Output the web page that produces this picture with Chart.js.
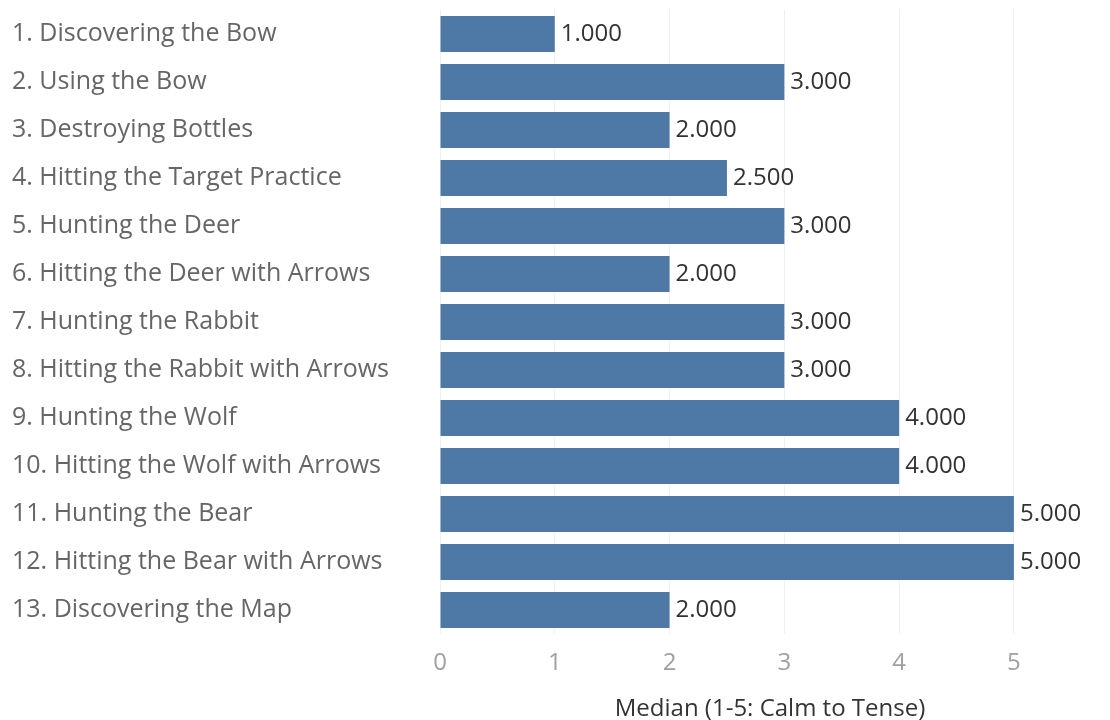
<!DOCTYPE html>
<html>
<head>
<meta charset="utf-8">
<script src="https://cdn.jsdelivr.net/npm/chart.js@4"></script>
<style>
  html, body { margin: 0; padding: 0; background: #fff; }
  #wrap { width: 1110px; height: 720px; }
</style>
</head>
<body>
<div id="wrap"><canvas id="median-chart"></canvas></div>
<script>
const scenes = [
  '1. Discovering the Bow',
  '2. Using the Bow',
  '3. Destroying Bottles',
  '4. Hitting the Target Practice',
  '5. Hunting the Deer',
  '6. Hitting the Deer with Arrows',
  '7. Hunting the Rabbit',
  '8. Hitting the Rabbit with Arrows',
  '9. Hunting the Wolf',
  '10. Hitting the Wolf with Arrows',
  '11. Hunting the Bear',
  '12. Hitting the Bear with Arrows',
  '13. Discovering the Map'
];
const medians = [1, 3, 2, 2.5, 3, 2, 3, 3, 4, 4, 5, 5, 2];
const xTicks = [0, 1, 2, 3, 4, 5];

const fontFamily = '"Open Sans", "Noto Sans", sans-serif';

// draws "3.000" style labels at the end of each bar
const valueLabels = {
  id: 'valueLabels',
  afterDatasetsDraw(chart) {
    const ctx = chart.ctx;
    const meta = chart.getDatasetMeta(0);
    ctx.save();
    ctx.font = '24px ' + fontFamily;
    ctx.fillStyle = '#333';
    ctx.textBaseline = 'middle';
    meta.data.forEach((bar, i) => {
      ctx.fillText(medians[i].toFixed(3), bar.x + 6, bar.y);
    });
    ctx.restore();
  }
};

const medianConfig = {
  type: 'bar',
  data: {
    labels: scenes,
    datasets: [{
      data: medians,
      backgroundColor: '#4e79a7',
      borderWidth: 0,
      categoryPercentage: 1,
      barPercentage: 0.75
    }]
  },
  options: {
    indexAxis: 'y',
    responsive: true,
    maintainAspectRatio: false,
    animation: false,
    layout: { padding: { top: 10, left: 12, right: 10, bottom: 0 } },
    scales: {
      x: {
        min: 0,
        max: 5.75,
        afterBuildTicks(scale) {
          scale.ticks = xTicks.map(v => ({ value: v }));
        },
        afterFit(scale) { scale.height = 86; },
        grid: { color: '#f0f0f0', drawTicks: false },
        border: { display: false },
        ticks: {
          color: '#a0a0a0',
          padding: 15,
          font: { family: fontFamily, size: 24 }
        },
        title: {
          display: true,
          text: 'Median (1-5: Calm to Tense)',
          color: '#333',
          padding: { top: 10, bottom: -4 },
          font: { family: fontFamily, size: 24 }
        }
      },
      y: {
        afterFit(scale) {
          scale.width = 428;
          scale.paddingTop = 0;
          scale.paddingBottom = 0;
        },
        grid: { display: false },
        border: { display: false },
        ticks: {
          crossAlign: 'far',
          color: '#666',
          padding: 0,
          font: { family: fontFamily, size: 25 }
        }
      }
    },
    plugins: {
      legend: { display: false },
      tooltip: { enabled: false }
    }
  },
  plugins: [valueLabels]
};

const medianChart = new Chart(
  document.getElementById('median-chart'),
  medianConfig
);
</script>
</body>
</html>
